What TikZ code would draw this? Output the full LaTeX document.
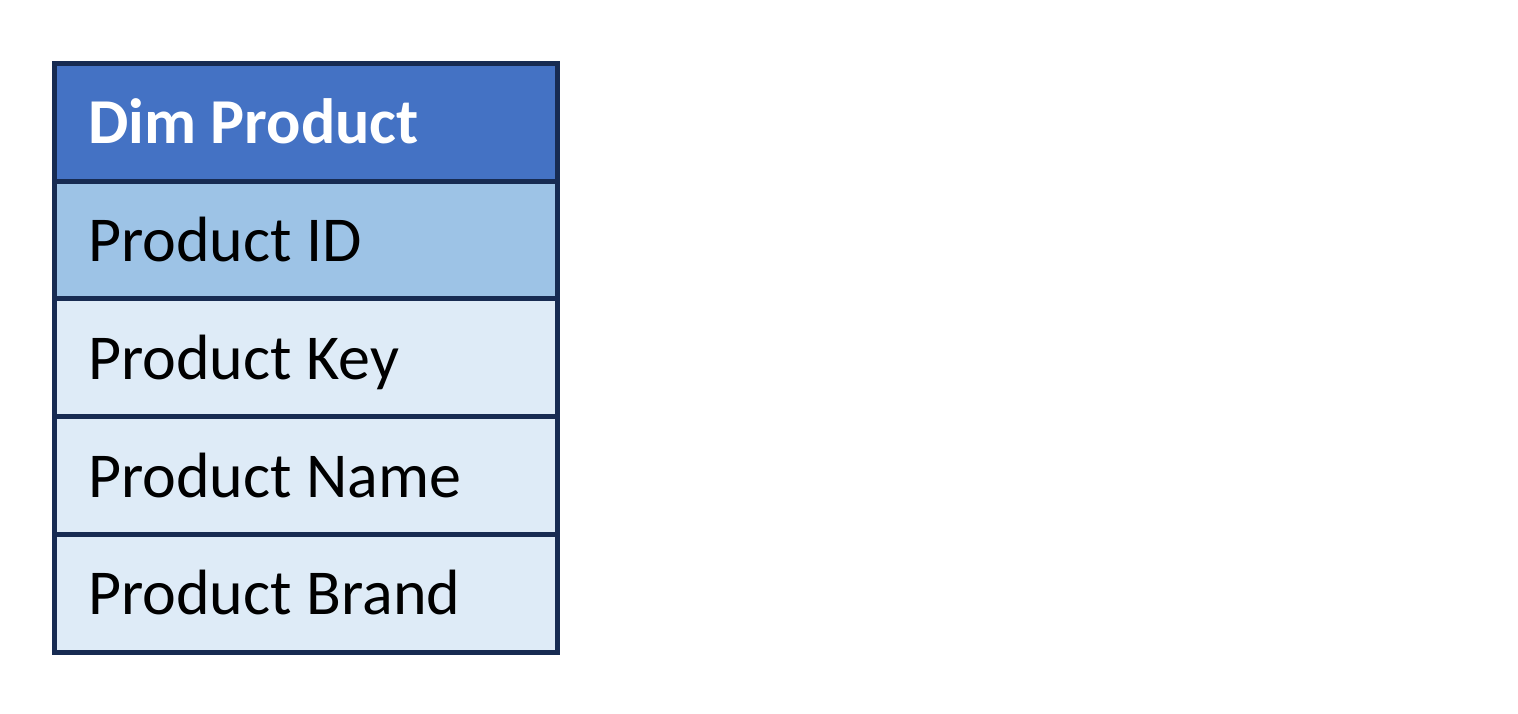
\documentclass[tikz,border=0pt]{standalone}
\usepackage{fontspec}
\setmainfont{Carlito}
\definecolor{hdr}{RGB}{68,114,196}
\definecolor{keyrow}{RGB}{157,195,230}
\definecolor{plainrow}{RGB}{222,235,247}
\definecolor{edge}{RGB}{23,43,82}
\tikzset{
  cellbox/.style={draw=edge, line width=5pt},
  celltext/.style={anchor=base west, inner sep=0pt, font=\fontsize{64}{64}\selectfont},
}
\begin{document}
\begin{tikzpicture}[x=1pt,y=-1pt]
\useasboundingbox[fill=white] (0,0) rectangle (1518,713);
\fill[hdr] (54.5,63.5) rectangle (557.5,181.5);
\fill[keyrow] (54.5,181.5) rectangle (557.5,298.5);
\fill[plainrow] (54.5,298.5) rectangle (557.5,652.5);
\draw[cellbox] (54.5,181.5) -- (557.5,181.5);
\draw[cellbox] (54.5,298.5) -- (557.5,298.5);
\draw[cellbox] (54.5,416.5) -- (557.5,416.5);
\draw[cellbox] (54.5,534.5) -- (557.5,534.5);
\draw[cellbox] (54.5,63.5) rectangle (557.5,652.5);
\node[celltext, text=white, font=\fontsize{64}{64}\selectfont\bfseries] (h) at (88,143) {Dim Product};
\node[celltext] (r1) at (88,261) {Product ID};
\node[celltext] (r2) at (88,379) {Product Key};
\node[celltext] (r3) at (88,497) {Product Name};
\node[celltext] (r4) at (88,614) {Product Brand};
\end{tikzpicture}
\end{document}
